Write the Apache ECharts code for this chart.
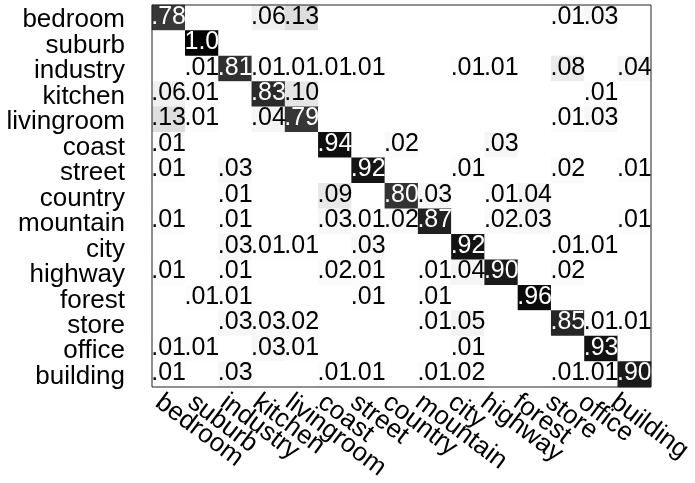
<!DOCTYPE html>
<html>
<head>
<meta charset="utf-8">
<script src="https://cdn.jsdelivr.net/npm/echarts@6/dist/echarts.min.js"></script>
<style>
html,body{margin:0;padding:0;background:#fff;}
#chart{width:695px;height:483px;}
</style>
</head>
<body>
<div id="chart"></div>
<script>
const categories = ['bedroom','suburb','industry','kitchen','livingroom','coast','street','country','mountain','city','highway','forest','store','office','building'];

// rows = true class, columns = predicted class (0 = empty cell)
const rowBedroom    = [.78,0,0,.06,.13,0,0,0,0,0,0,0,.01,.03,0];
const rowSuburb     = [0,1.0,0,0,0,0,0,0,0,0,0,0,0,0,0];
const rowIndustry   = [0,.01,.81,.01,.01,.01,.01,0,0,.01,.01,0,.08,0,.04];
const rowKitchen    = [.06,.01,0,.83,.10,0,0,0,0,0,0,0,0,.01,0];
const rowLivingroom = [.13,.01,0,.04,.79,0,0,0,0,0,0,0,.01,.03,0];
const rowCoast      = [.01,0,0,0,0,.94,0,.02,0,0,.03,0,0,0,0];
const rowStreet     = [.01,0,.03,0,0,0,.92,0,0,.01,0,0,.02,0,.01];
const rowCountry    = [0,0,.01,0,0,.09,0,.80,.03,0,.01,.04,0,0,0];
const rowMountain   = [.01,0,.01,0,0,.03,.01,.02,.87,0,.02,.03,0,0,.01];
const rowCity       = [0,0,.03,.01,.01,0,.03,0,0,.92,0,0,.01,.01,0];
const rowHighway    = [.01,0,.01,0,0,.02,.01,0,.01,.04,.90,0,.02,0,0];
const rowForest     = [0,.01,.01,0,0,0,.01,0,.01,0,0,.96,0,0,0];
const rowStore      = [0,0,.03,.03,.02,0,0,0,.01,.05,0,0,.85,.01,.01];
const rowOffice     = [.01,.01,0,.03,.01,0,0,0,0,.01,0,0,0,.93,0];
const rowBuilding   = [.01,0,.03,0,0,.01,.01,0,.01,.02,0,0,.01,.01,.90];

const rows = [rowBedroom,rowSuburb,rowIndustry,rowKitchen,rowLivingroom,rowCoast,rowStreet,rowCountry,rowMountain,rowCity,rowHighway,rowForest,rowStore,rowOffice,rowBuilding];

const FONT = '"Liberation Sans", Arial, Helvetica, sans-serif';

const data = [];
rows.forEach((r, y) => {
  r.forEach((v, x) => {
    data.push({
      value: [x, y, v],
      label: { show: v > 0, color: v > 0.5 ? '#ffffff' : '#000000' }
    });
  });
});

function fmt(v) {
  if (v >= 1) return '1.0';
  const n = Math.round(v * 100);
  return '.' + (n < 10 ? '0' + n : '' + n);
}

const chart = echarts.init(document.getElementById('chart'), null, {renderer: 'canvas'});
chart.setOption({
  animation: false,
  backgroundColor: '#ffffff',
  grid: [
    {left: 152, top: 5, width: 499, height: 382, show: true, borderColor: '#222', borderWidth: 1, backgroundColor: 'transparent', z: 10},
    {left: 142, top: 5, width: 499, height: 382, show: false}
  ],
  xAxis: [
    {type: 'category', gridIndex: 0, data: categories, axisLine: {show: false}, axisTick: {show: false}, axisLabel: {show: false}, splitLine: {show: false}},
    {type: 'category', gridIndex: 1, data: categories, position: 'bottom', axisLine: {show: false}, axisTick: {show: false},
     axisLabel: {show: true, interval: 0, rotate: -37, margin: 19, fontSize: 26, color: '#000', fontFamily: FONT}}
  ],
  yAxis: [
    {type: 'category', gridIndex: 0, data: categories, inverse: true, axisLine: {show: false}, axisTick: {show: false},
     axisLabel: {show: true, interval: 0, margin: 27, color: '#000',
       formatter: v => '{a|' + v + '}',
       rich: {a: {fontSize: 26, fontFamily: FONT, color: '#000', padding: [5, 0, 0, 0]}}}},
    {type: 'category', gridIndex: 1, data: categories, inverse: true, show: false}
  ],
  visualMap: {
    show: false, min: 0, max: 1, dimension: 2, seriesIndex: 0,
    inRange: {color: ['#ffffff', '#000000']}
  },
  series: [{
    type: 'heatmap',
    xAxisIndex: 0, yAxisIndex: 0,
    data: data,
    itemStyle: {borderWidth: 0},
    label: {
      show: true,
      fontSize: 25,
      fontFamily: FONT,
      offset: [0, -1],
      formatter: p => fmt(p.value[2])
    },
    emphasis: {disabled: true}
  }]
});
</script>
</body>
</html>
